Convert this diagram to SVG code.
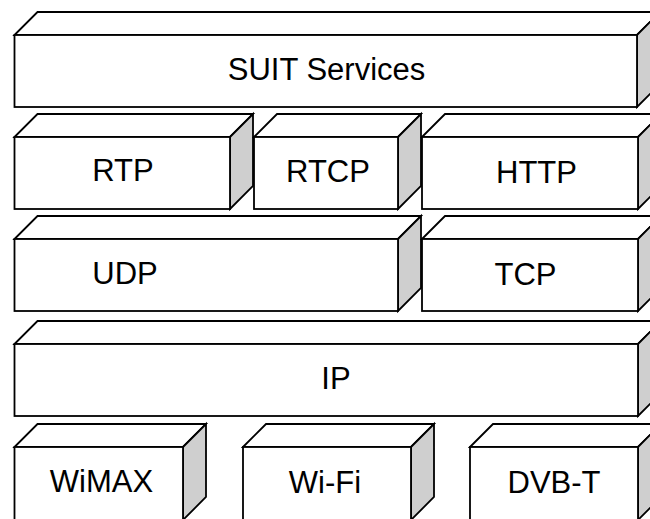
<svg xmlns="http://www.w3.org/2000/svg" width="650" height="519" viewBox="0 0 650 519">
  <style>
    .face { fill: #ffffff; stroke: #000000; stroke-width: 1.8; stroke-linejoin: miter; }
    .side { fill: #cfcfcf; stroke: #000000; stroke-width: 1.8; stroke-linejoin: miter; }
    .label { font-family: "Liberation Sans", Arial, sans-serif; font-size: 31px; fill: #000000; text-anchor: middle; }
  </style>
  <rect x="0" y="0" width="650" height="519" fill="#ffffff"/>

  <!-- Protocol stack: each layer is an extruded block (top, side, front), depth 23 -->
  <g id="suit-services">
    <polygon class="face" points="14.5,35 37.5,12 660,12 637,35"/>
    <polygon class="side" points="637,35 660,12 660,84 637,107"/>
    <rect class="face" x="14.5" y="35" width="622.5" height="72"/>
    <text class="label" x="326.5" y="80">SUIT Services</text>
  </g>

  <g id="rtp">
    <polygon class="face" points="14.5,137 37.5,114 253,114 230,137"/>
    <polygon class="side" points="230,137 253,114 253,186 230,209"/>
    <rect class="face" x="14.5" y="137" width="215.5" height="72"/>
    <text class="label" x="123" y="181">RTP</text>
  </g>

  <g id="rtcp">
    <polygon class="face" points="254,137 277,114 421,114 398,137"/>
    <polygon class="side" points="398,137 421,114 421,186 398,209"/>
    <rect class="face" x="254" y="137" width="144" height="72"/>
    <text class="label" x="328" y="182">RTCP</text>
  </g>

  <g id="http">
    <polygon class="face" points="422,137 445,114 661,114 638,137"/>
    <polygon class="side" points="638,137 661,114 661,186 638,209"/>
    <rect class="face" x="422" y="137" width="216" height="72"/>
    <text class="label" x="536.5" y="183">HTTP</text>
  </g>

  <g id="udp">
    <polygon class="face" points="14.5,239 37.5,216 421,216 398,239"/>
    <polygon class="side" points="398,239 421,216 421,288 398,311"/>
    <rect class="face" x="14.5" y="239" width="383.5" height="72"/>
    <text class="label" x="125" y="284">UDP</text>
  </g>

  <g id="tcp">
    <polygon class="face" points="422,239 445,216 661,216 638,239"/>
    <polygon class="side" points="638,239 661,216 661,288 638,311"/>
    <rect class="face" x="422" y="239" width="216" height="72"/>
    <text class="label" x="525.5" y="285">TCP</text>
  </g>

  <g id="ip">
    <polygon class="face" points="14.5,344 37.5,321 661,321 638,344"/>
    <polygon class="side" points="638,344 661,321 661,393 638,416"/>
    <rect class="face" x="14.5" y="344" width="623.5" height="72"/>
    <text class="label" x="336" y="389">IP</text>
  </g>

  <!-- bottom row runs past the lower edge of the canvas -->
  <g id="wimax">
    <polygon class="face" points="14.5,447 37.5,424 206,424 183,447"/>
    <polygon class="side" points="183,447 206,424 206,497 183,520"/>
    <rect class="face" x="14.5" y="447" width="168.5" height="76"/>
    <text class="label" x="101.5" y="492">WiMAX</text>
  </g>

  <g id="wifi">
    <polygon class="face" points="243,447 266,424 434,424 411,447"/>
    <polygon class="side" points="411,447 434,424 434,497 411,520"/>
    <rect class="face" x="243" y="447" width="168" height="76"/>
    <text class="label" x="325" y="493">Wi-Fi</text>
  </g>

  <g id="dvb-t">
    <polygon class="face" points="470,447 493,424 661,424 638,447"/>
    <polygon class="side" points="638,447 661,424 661,497 638,520"/>
    <rect class="face" x="470" y="447" width="168" height="76"/>
    <text class="label" x="554" y="493">DVB-T</text>
  </g>

  <!-- layers touch directly; no connecting lines -->
  <g id="connectors"/>
</svg>
